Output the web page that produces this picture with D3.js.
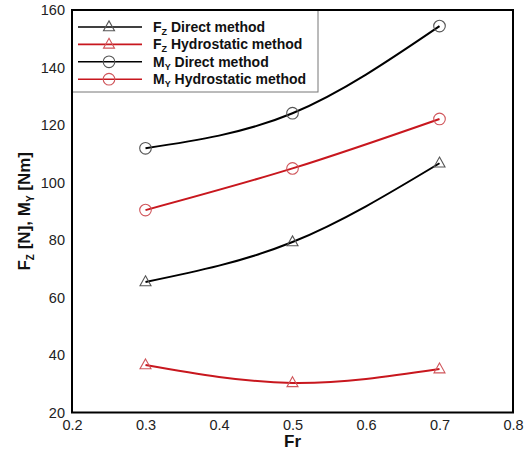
<!DOCTYPE html>
<html><head><meta charset="utf-8">
<script src="https://cdn.jsdelivr.net/npm/d3@7"></script>
<style>body{margin:0;background:#fff}svg{display:block}</style>
</head><body>
<svg id="c" width="532" height="455"></svg>
<script>
const fr = [0.3, 0.5, 0.7];
const fzDirect = [65.4, 79.3, 106.7];
const fzHydro = [36.5, 30.3, 35.1];
const myDirect = [111.9, 124.1, 154.4];
const myHydro = [90.4, 104.9, 122.1];
const xTicks = [0.2, 0.3, 0.4, 0.5, 0.6, 0.7, 0.8];
const yTicks = [20, 40, 60, 80, 100, 120, 140, 160];

const series = [
  {name: "F", sub: "Z", rest: " Direct method", vals: fzDirect, color: "#000", mcolor: "#555", marker: "tri"},
  {name: "F", sub: "Z", rest: " Hydrostatic method", vals: fzHydro, color: "#c8171e", mcolor: "#d0565b", marker: "tri"},
  {name: "M", sub: "Y", rest: " Direct method", vals: myDirect, color: "#000", mcolor: "#555", marker: "circ"},
  {name: "M", sub: "Y", rest: " Hydrostatic method", vals: myHydro, color: "#c8171e", mcolor: "#d0565b", marker: "circ"}
];

const svg = d3.select("#c");
const L = 72, R = 513, T = 10, B = 412.5;
const x = d3.scaleLinear().domain([0.2, 0.8]).range([L, R]);
const y = d3.scaleLinear().domain([20, 160]).range([B, T]);
const font = "'Liberation Sans', Arial, sans-serif";

// tick labels
const xa = svg.append("g").attr("transform", `translate(0,${B})`)
  .call(d3.axisBottom(x).tickValues(xTicks).tickSize(0).tickPadding(7).tickFormat(d3.format(".1f")));
const ya = svg.append("g").attr("transform", `translate(${L},0)`)
  .call(d3.axisLeft(y).tickValues(yTicks).tickSize(0).tickPadding(7).tickFormat(d3.format("d")));
[xa, ya].forEach(a => {
  a.select(".domain").remove();
  a.selectAll("text").attr("font-family", font).attr("font-size", 14.5).attr("fill", "#222");
});

function triPath(cx, cy, s) {
  const h = s * 0.9;
  return `M${cx},${cy - h * 0.62}L${cx + s / 2},${cy + h * 0.38}L${cx - s / 2},${cy + h * 0.38}Z`;
}
function drawMarker(g, m, cx, cy, col) {
  if (m === "tri") g.append("path").attr("d", triPath(cx, cy, 11)).attr("fill", "#fff").attr("fill-opacity", 0).attr("stroke", col).attr("stroke-width", 1.1);
  else g.append("circle").attr("cx", cx).attr("cy", cy).attr("r", 5.8).attr("fill", "none").attr("stroke", col).attr("stroke-width", 1.1);
}

const line = d3.line().x(d => x(d[0])).y(d => y(d[1])).curve(d3.curveNatural);
const plot = svg.append("g");
series.forEach(s => {
  const pts = fr.map((f, i) => [f, s.vals[i]]);
  plot.append("path").attr("d", line(pts)).attr("fill", "none").attr("stroke", s.color).attr("stroke-width", 2);
  pts.forEach(p => drawMarker(plot, s.marker, x(p[0]), y(p[1]), s.mcolor));
});

// legend
const lg = svg.append("g");
lg.append("rect").attr("x", L).attr("y", T).attr("width", 246).attr("height", 82)
  .attr("fill", "#fff").attr("stroke", "#777").attr("stroke-width", 1);
series.forEach((s, i) => {
  const yy = 27 + i * 17.4;
  lg.append("line").attr("x1", 78).attr("x2", 142).attr("y1", yy).attr("y2", yy).attr("stroke", s.color).attr("stroke-width", 1.6);
  drawMarker(lg, s.marker, 109, yy, s.mcolor);
  const t = lg.append("text").attr("x", 153).attr("y", yy + 5).attr("font-family", font).attr("font-size", 14).attr("font-weight", "bold").attr("fill", "#111");
  t.append("tspan").text(s.name);
  t.append("tspan").attr("font-size", 9).attr("dy", 3).text(s.sub);
  t.append("tspan").attr("dy", -3).text(s.rest);
});

// frame
svg.append("rect").attr("x", L).attr("y", T).attr("width", R - L).attr("height", B - T)
  .attr("fill", "none").attr("stroke", "#000").attr("stroke-width", 2);

// axis titles
svg.append("text").attr("x", x(0.5)).attr("y", 447).attr("text-anchor", "middle")
  .attr("font-family", font).attr("font-size", 17).attr("font-weight", "bold").attr("fill", "#111").text("Fr");
const yt = svg.append("text").attr("transform", `translate(30,${(T + B) / 2}) rotate(-90)`).attr("text-anchor", "middle")
  .attr("font-family", font).attr("font-size", 17).attr("font-weight", "bold").attr("fill", "#111");
yt.append("tspan").text("F");
yt.append("tspan").attr("font-size", 10).attr("dy", 4).text("Z");
yt.append("tspan").attr("dy", -4).text(" [N], M");
yt.append("tspan").attr("font-size", 10).attr("dy", 4).text("Y");
yt.append("tspan").attr("dy", -4).text(" [Nm]");
</script>
</body></html>
